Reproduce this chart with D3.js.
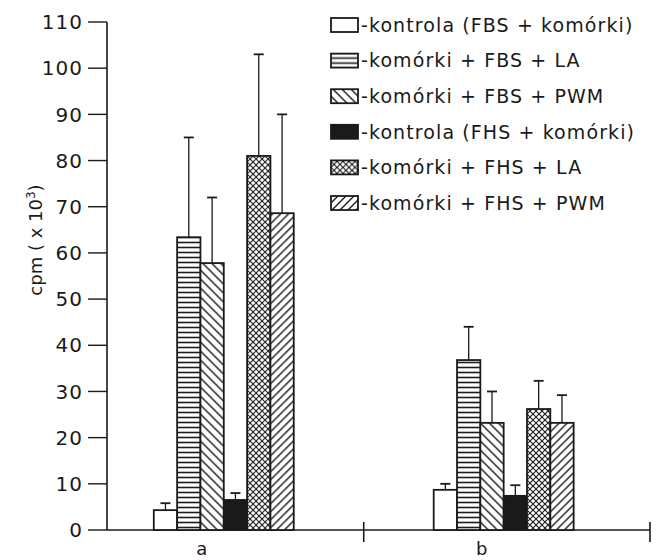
<!DOCTYPE html>
<html>
<head>
<meta charset="utf-8">
<script src="https://cdn.jsdelivr.net/npm/d3@7"></script>
<style>
  body { margin: 0; background: #fff; }
  text { font-family: "DejaVu Sans", sans-serif; fill: #1a1a1a; }
</style>
</head>
<body>
<svg id="chart" width="668" height="560"></svg>
<script>
// groups on the x axis and the six series inside each group
var groups = ["a", "b"];
var series = [
  "kontrola (FBS + komórki)",
  "komórki + FBS + LA",
  "komórki + FBS + PWM",
  "kontrola (FHS + komórki)",
  "komórki + FHS + LA",
  "komórki + FHS + PWM"
];
var fills = ["white", "horiz", "back", "solid", "cross", "fwd"];

// mean values (cpm x 10^3)
var valuesA = [4.3, 63.4, 57.8, 6.5, 81, 68.6];
var valuesB = [8.7, 36.8, 23.2, 7.4, 26.2, 23.2];
// upper error (SD)
var errorsA = [1.5, 21.6, 14.2, 1.5, 22, 21.4];
var errorsB = [1.3, 7.2, 6.8, 2.3, 6.1, 6.0];

var yTicks = [0, 10, 20, 30, 40, 50, 60, 70, 80, 90, 100, 110];

var ink = "#1a1a1a";
var svg = d3.select("#chart");

var y = d3.scaleLinear().domain([0, 110]).range([530, 22]);
var x0 = d3
  .scaleBand()
  .domain(groups)
  .range([107, 650])
  .paddingInner(0.5)
  .paddingOuter(0.22)
  .align(0.38);
var x1 = d3.scaleBand().domain(series).range([0, x0.bandwidth()]);

// hatch patterns
var defs = svg.append("defs");
function pattern(id, size, draw) {
  var p = defs
    .append("pattern")
    .attr("id", id)
    .attr("patternUnits", "userSpaceOnUse")
    .attr("width", size)
    .attr("height", size);
  p.append("rect").attr("width", size).attr("height", size).attr("fill", "white");
  draw(p, size);
}
pattern("horiz", 5, function (p, s) {
  p.append("line").attr("x1", 0).attr("x2", s).attr("y1", 2.5).attr("y2", 2.5)
    .attr("stroke", ink).attr("stroke-width", 1.6);
});
pattern("back", 9, function (p, s) {
  p.append("path").attr("d", "M0,0L" + s + "," + s + "M-2," + (s - 2) + "L2," + (s + 2) + "M" + (s - 2) + ",-2L" + (s + 2) + ",2")
    .attr("stroke", ink).attr("stroke-width", 1.4);
});
pattern("fwd", 8, function (p, s) {
  p.append("path").attr("d", "M0," + s + "L" + s + ",0M-2,2L2,-2M" + (s - 2) + "," + (s + 2) + "L" + (s + 2) + "," + (s - 2))
    .attr("stroke", ink).attr("stroke-width", 1.4);
});
pattern("cross", 6, function (p, s) {
  p.append("path")
    .attr("d", "M0,0L" + s + "," + s + "M0," + s + "L" + s + ",0")
    .attr("stroke", ink).attr("stroke-width", 1.1);
});
function fillOf(f) {
  if (f === "white") return "white";
  if (f === "solid") return ink;
  return "url(#" + f + ")";
}

// y axis
var yAxis = svg.append("g");
yAxis.append("line")
  .attr("x1", 107).attr("x2", 107).attr("y1", y(110)).attr("y2", y(0))
  .attr("stroke", ink).attr("stroke-width", 1.6);
yAxis.selectAll(".tick")
  .data(yTicks)
  .enter()
  .append("line")
  .attr("x1", 88).attr("x2", 107)
  .attr("y1", function (d) { return y(d); })
  .attr("y2", function (d) { return y(d); })
  .attr("stroke", ink).attr("stroke-width", 1.4);
yAxis.selectAll(".lab")
  .data(yTicks)
  .enter()
  .append("text")
  .text(function (d) { return d; })
  .attr("x", 83)
  .attr("y", function (d) { return y(d); })
  .attr("dy", "0.36em")
  .attr("text-anchor", "end")
  .attr("font-size", "20px")
  .attr("letter-spacing", "1px");

// axis title
var title = svg.append("text")
  .attr("transform", "translate(42,240) rotate(-90)")
  .attr("text-anchor", "middle")
  .attr("font-size", "18px");
title.append("tspan").text("cpm ( x 10");
title.append("tspan").text("3").attr("font-size", "12px").attr("dy", "-7");
title.append("tspan").text(")").attr("dy", "7");

// x axis with separators
var xEnd = x0.range()[1];
var sep = (x0("a") + x0.bandwidth() + x0("b")) / 2;
svg.append("line")
  .attr("x1", 107).attr("x2", xEnd).attr("y1", y(0)).attr("y2", y(0))
  .attr("stroke", ink).attr("stroke-width", 1.6);
svg.selectAll(".sep")
  .data([sep, xEnd])
  .enter()
  .append("line")
  .attr("x1", function (d) { return d; })
  .attr("x2", function (d) { return d; })
  .attr("y1", y(0) - 8).attr("y2", y(0) + 12)
  .attr("stroke", ink).attr("stroke-width", 1.6);
svg.selectAll(".glab")
  .data(groups)
  .enter()
  .append("text")
  .text(function (d) { return d; })
  .attr("x", function (d) { return x0(d) + x0.bandwidth() / 2 - 22; })
  .attr("y", 555)
  .attr("text-anchor", "middle")
  .attr("font-size", "18px");

// bars
var rows = [];
groups.forEach(function (g, gi) {
  var vals = gi === 0 ? valuesA : valuesB;
  var errs = gi === 0 ? errorsA : errorsB;
  series.forEach(function (s, i) {
    rows.push({ g: g, s: s, v: vals[i], e: errs[i], f: fills[i] });
  });
});

var bars = svg.selectAll(".bar")
  .data(rows)
  .enter()
  .append("g")
  .attr("transform", function (d) { return "translate(" + (x0(d.g) + x1(d.s)) + ",0)"; });

// error bars first, bars drawn over them
bars.append("line")
  .attr("x1", x1.bandwidth() / 2).attr("x2", x1.bandwidth() / 2)
  .attr("y1", function (d) { return y(d.v); })
  .attr("y2", function (d) { return y(d.v + d.e); })
  .attr("stroke", ink).attr("stroke-width", 1.3);
bars.append("line")
  .attr("x1", x1.bandwidth() / 2 - 5).attr("x2", x1.bandwidth() / 2 + 5)
  .attr("y1", function (d) { return y(d.v + d.e); })
  .attr("y2", function (d) { return y(d.v + d.e); })
  .attr("stroke", ink).attr("stroke-width", 1.8);
bars.append("rect")
  .attr("width", x1.bandwidth())
  .attr("y", function (d) { return y(d.v); })
  .attr("height", function (d) { return y(0) - y(d.v); })
  .attr("fill", function (d) { return fillOf(d.f); })
  .attr("stroke", ink)
  .attr("stroke-width", 1.8);

// legend
var legend = svg.selectAll(".leg")
  .data(series)
  .enter()
  .append("g")
  .attr("transform", function (d, i) { return "translate(331," + (25 + i * 35.6) + ")"; });
legend.append("rect")
  .attr("x", 0).attr("y", -7).attr("width", 27).attr("height", 14)
  .attr("fill", function (d, i) { return fillOf(fills[i]); })
  .attr("stroke", ink).attr("stroke-width", 1.8);
legend.append("text")
  .text(function (d) { return "-" + d; })
  .attr("x", 30)
  .attr("dy", "0.36em")
  .attr("font-size", "19px")
  .attr("letter-spacing", "1.1px");
</script>
</body>
</html>
